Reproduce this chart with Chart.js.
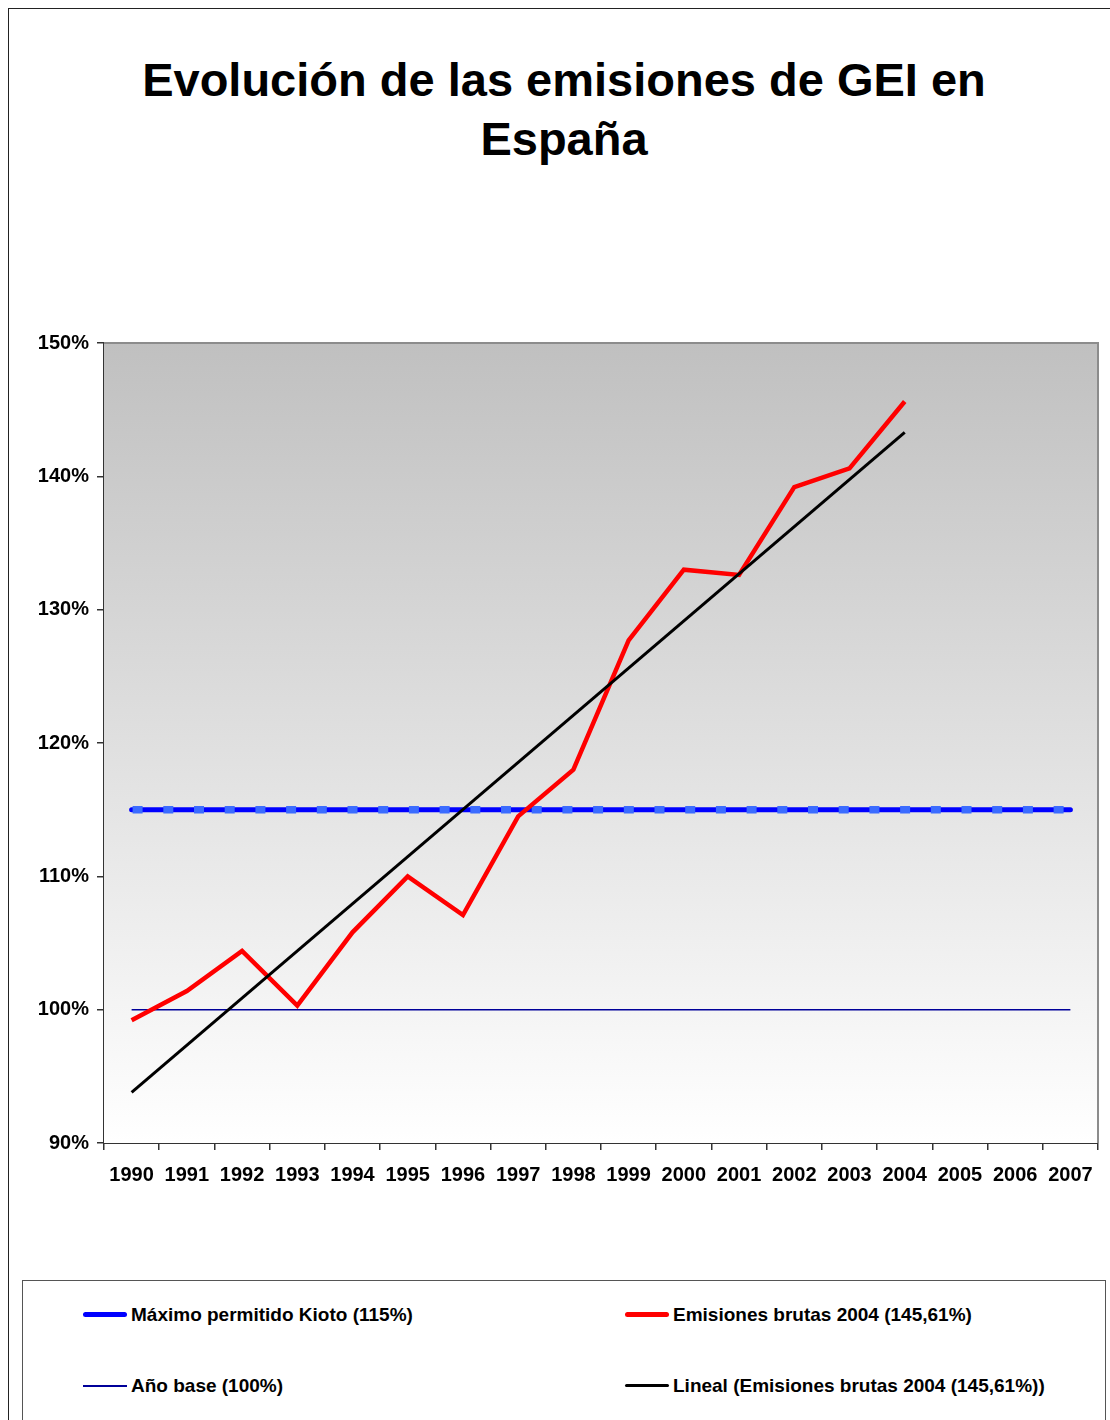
<!DOCTYPE html>
<html>
<head>
<meta charset="utf-8">
<script src="https://cdn.jsdelivr.net/npm/chart.js@4"></script>
<style>
  body { margin: 0; background: #fff; font-family: "Liberation Sans", Arial, sans-serif; }
  #wrap { position: relative; width: 1110px; height: 1420px; overflow: hidden; }
  #frame { position: absolute; left: 8px; top: 8px; width: 1200px; height: 1500px; border: 1px solid #222; }
  #title { position: absolute; left: 0; top: 50px; width: 1128px; text-align: center; font-weight: bold; font-size: 47px; line-height: 59px; color: #000; }
  canvas { position: absolute; left: 0; top: 0; }
  #legend { position: absolute; left: 22px; top: 1280px; width: 1082px; height: 200px; border: 1px solid #555; background: #fff; }
  .item { position: absolute; font-weight: bold; font-size: 19px; color: #000; white-space: nowrap; }
  .item span.ln { position: absolute; left: -48px; top: 50%; width: 44px; border-radius: 3px; }
</style>
</head>
<body>
<div id="wrap">
  <div id="frame"></div>
  <div id="title">Evolución de las emisiones de GEI en<br>España</div>
  <canvas id="ghgChart" width="1110" height="1420"></canvas>
  <div id="legend">
    <div class="item" style="left:108px; top:23px;"><span class="ln" style="height:5px; margin-top:-3px; background:#0000ff;"></span>Máximo permitido Kioto (115%)</div>
    <div class="item" style="left:650px; top:23px;"><span class="ln" style="height:5px; margin-top:-3px; background:#ff0000;"></span>Emisiones brutas 2004 (145,61%)</div>
    <div class="item" style="left:108px; top:94px;"><span class="ln" style="height:2px; margin-top:-1px; background:#000099; border-radius:0;"></span>Año base (100%)</div>
    <div class="item" style="left:650px; top:94px;"><span class="ln" style="height:3px; margin-top:-2px; background:#000;"></span>Lineal (Emisiones brutas 2004 (145,61%))</div>
  </div>
</div>
<script>
// data (% of base year)
const years = ["1990", "1991", "1992", "1993", "1994", "1995", "1996", "1997", "1998",
  "1999", "2000", "2001", "2002", "2003", "2004", "2005", "2006", "2007"];
const emisiones = [99.2, 101.4, 104.4, 100.3, 105.8, 110.0, 107.1, 114.5, 118.0,
  127.7, 133.0, 132.6, 139.2, 140.6, 145.61, null, null, null];
// trend line: only the two ends are readable, straight line in between
const lineal = [93.8, null, null, null, null, null, null, null, null,
  null, null, null, null, null, 143.3, null, null, null];
const kioto = [115, 115, 115, 115, 115, 115, 115, 115, 115,
  115, 115, 115, 115, 115, 115, 115, 115, 115];
const base = [100, 100, 100, 100, 100, 100, 100, 100, 100,
  100, 100, 100, 100, 100, 100, 100, 100, 100];
const yTicks = [90, 100, 110, 120, 130, 140, 150];

// grey-to-white plot background + thin grey frame on top/right
const plotBg = {
  id: "plotBg",
  beforeDatasetsDraw(chart) {
    const { ctx, chartArea: a } = chart;
    ctx.save();
    let g = ctx.createLinearGradient(0, a.top, 0, a.bottom);
    g.addColorStop(0, "#c0c0c0");
    g.addColorStop(1, "#ffffff");
    ctx.fillStyle = g;
    ctx.fillRect(a.left, a.top, a.right - a.left, a.bottom - a.top);
    ctx.strokeStyle = "#8c8c8c";
    ctx.lineWidth = 2;
    ctx.beginPath();
    ctx.moveTo(a.left, a.top);
    ctx.lineTo(a.right, a.top);
    ctx.lineTo(a.right, a.bottom);
    ctx.stroke();
    ctx.restore();
  },
};

let chart = new Chart(document.querySelector("#ghgChart"), {
  type: "line",
  data: {
    labels: years,
    datasets: [
      {
        label: "Lineal (Emisiones brutas 2004 (145,61%))",
        data: lineal,
        borderColor: "#000000",
        borderWidth: 3,
        spanGaps: true,
        pointRadius: 0,
      },
      {
        label: "Emisiones brutas 2004 (145,61%)",
        data: emisiones,
        borderColor: "#ff0000",
        borderWidth: 4.5,
        pointRadius: 0,
        borderJoinStyle: "miter",
      },
      {
        label: "kioto dashes",
        data: kioto,
        borderColor: "#3b6cff",
        borderWidth: 7.5,
        borderDash: [10, 20.7],
        borderDashOffset: -1,
        borderCapStyle: "butt",
        pointRadius: 0,
      },
      {
        label: "Máximo permitido Kioto (115%)",
        data: kioto,
        borderColor: "#0000ff",
        borderWidth: 5,
        borderCapStyle: "round",
        pointRadius: 0,
      },
      {
        label: "Año base (100%)",
        data: base,
        borderColor: "#000099",
        borderWidth: 1.5,
        pointRadius: 0,
      },
    ],
  },
  options: {
    responsive: false,
    animation: false,
    devicePixelRatio: 1,
    layout: { padding: { left: 0, right: 12, top: 343, bottom: 217 } },
    plugins: {
      legend: { display: false },
      tooltip: { enabled: false },
    },
    scales: {
      x: {
        offset: true,
        grid: { offset: true, drawOnChartArea: false, tickLength: 7, color: "#333", lineWidth: 1.5 },
        border: { color: "#333", width: 2 },
        ticks: {
          color: "#000",
          font: { family: "'Liberation Sans', Arial", size: 20, weight: "bold" },
          padding: 13,
          maxRotation: 0,
          autoSkip: false,
        },
        afterFit(scale) { scale.height = 60; },
      },
      y: {
        min: 90,
        max: 150,
        afterBuildTicks(scale) { scale.ticks = yTicks.map((v) => ({ value: v })); },
        grid: { drawOnChartArea: false, tickLength: 7, color: "#333", lineWidth: 1.5 },
        border: { color: "#333", width: 2 },
        ticks: {
          color: "#000",
          font: { family: "'Liberation Sans', Arial", size: 20, weight: "bold" },
          padding: 8,
          callback: (v) => v + "%",
        },
        afterFit(scale) { scale.width = 104; },
      },
    },
  },
  plugins: [plotBg],
});
</script>
</body>
</html>
